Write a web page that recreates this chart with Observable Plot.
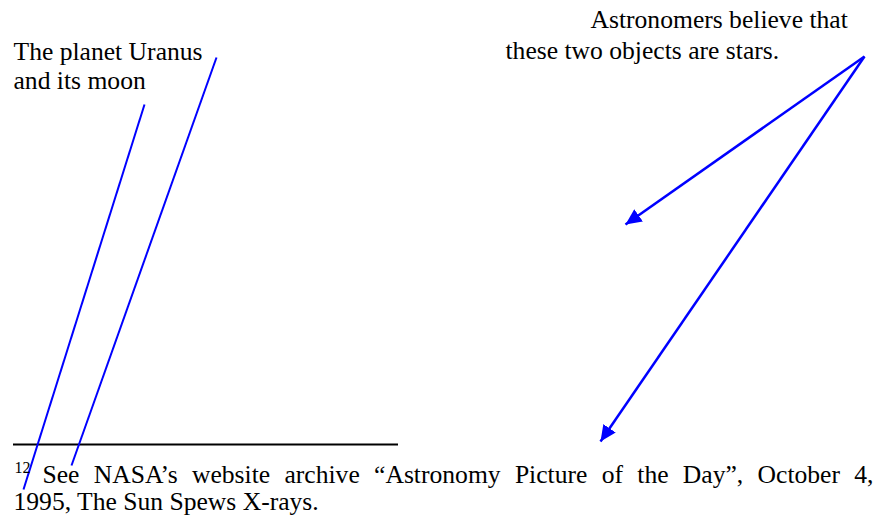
<!DOCTYPE html>
<html>
<head>
<meta charset="utf-8">
<script src="https://cdn.jsdelivr.net/npm/d3@7"></script>
<script src="https://cdn.jsdelivr.net/npm/@observablehq/plot@0.6"></script>
<style>
  html, body { margin: 0; padding: 0; background: #fff; }
  #chart svg { display: block; }
</style>
</head>
<body>
<div id="chart"></div>
<script>
// Pointer lines (Uranus and its moon): start and end points
const lineX1 = [216, 144];
const lineY1 = [57, 104];
const lineX2 = [71, 23];
const lineY2 = [465, 489];

// Arrows (two stars): common origin, two tips
const arrowX1 = [864, 864];
const arrowY1 = [56, 56];
const arrowX2 = [625, 600];
const arrowY2 = [224, 441];

// Footnote separator rule
const ruleY = [444];
const ruleX1 = [13];
const ruleX2 = [398];

// Annotation labels (one entry per line)
const labelText = ["The planet Uranus", "and its moon", "Astronomers believe that", "these two objects are stars."];
const labelX = [13, 13, 590, 505];
const labelY = [59, 88, 27, 58];

// Footnote
const noteMark = ["12"];
const noteText = ["See NASA\u2019s website archive \u201cAstronomy Picture of the Day\u201d, October 4,", "1995, The Sun Spews X-rays."];
const noteX = [42, 13];
const noteY = [482, 509];

const lines = lineX1.map((d, i) => ({x1: d, y1: lineY1[i], x2: lineX2[i], y2: lineY2[i]}));
const arrows = arrowX1.map((d, i) => ({x1: d, y1: arrowY1[i], x2: arrowX2[i], y2: arrowY2[i]}));
const rules = ruleY.map((d, i) => ({y: d, x1: ruleX1[i], x2: ruleX2[i]}));
const labels = labelText.map((t, i) => ({t, x: labelX[i], y: labelY[i]}));
const notes = noteText.map((t, i) => ({t, x: noteX[i], y: noteY[i]}));

const font = "'Liberation Serif', 'Times New Roman', serif";

const plot = Plot.plot({
  width: 876,
  height: 516,
  margin: 0,
  x: {domain: [0, 876], range: [0, 876], axis: null},
  y: {domain: [0, 516], range: [0, 516], axis: null},
  style: {background: "#fff", fontFamily: font, overflow: "visible"},
  marks: [
    Plot.ruleY(rules, {y: "y", x1: "x1", x2: "x2", stroke: "black", strokeWidth: 2}),
    Plot.link(lines, {x1: "x1", y1: "y1", x2: "x2", y2: "y2", stroke: "#0000ff", strokeWidth: 2}),
    Plot.link(arrows, {x1: "x1", y1: "y1", x2: "x2", y2: "y2", stroke: "#0000ff", strokeWidth: 2.5}),
    Plot.text(labels, {x: "x", y: "y", text: "t", textAnchor: "start", lineAnchor: "bottom", fontSize: 25.6, fill: "black", fontFamily: font}),
    Plot.text(notes, {x: "x", y: "y", text: "t", textAnchor: "start", lineAnchor: "bottom", fontSize: 25.6, fill: "black", fontFamily: font}),
    Plot.text(noteMark, {x: () => 14, y: () => 472, text: d => d, textAnchor: "start", lineAnchor: "bottom", fontSize: 16, fill: "black", fontFamily: font})
  ]
});

document.getElementById("chart").appendChild(plot);

// Filled arrowheads on the arrow links
const svg = d3.select(plot);
const defs = svg.insert("defs", ":first-child");
defs.append("marker")
  .attr("id", "filled-head")
  .attr("viewBox", "0 0 16 15")
  .attr("refX", 16)
  .attr("refY", 7.5)
  .attr("markerWidth", 16)
  .attr("markerHeight", 15)
  .attr("markerUnits", "userSpaceOnUse")
  .attr("orient", "auto")
  .append("path")
  .attr("d", "M0,0L16,7.5L0,15Z")
  .attr("fill", "#0000ff");
const linkGroups = svg.selectAll("g[aria-label='link']").nodes();
if (linkGroups.length > 1) {
  d3.select(linkGroups[linkGroups.length - 1]).selectAll("path").attr("marker-end", "url(#filled-head)");
}

// Justify the first footnote line between its start and the right margin
const rightEdge = 873;
svg.selectAll("text").each(function () {
  const s = this.textContent;
  if (s.startsWith("See NASA")) {
    const natural = this.getComputedTextLength();
    const spaces = (s.match(/ /g) || []).length;
    const start = noteX[0];
    const extra = (rightEdge - start - natural) / spaces;
    if (extra > 0) this.setAttribute("word-spacing", extra);
  }
});
</script>
</body>
</html>
